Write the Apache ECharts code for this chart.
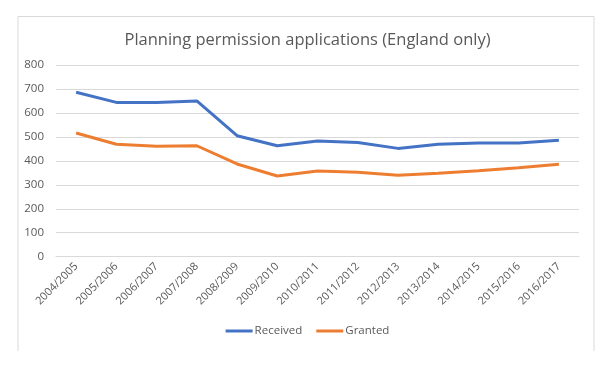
<!DOCTYPE html>
<html><head><meta charset="utf-8">
<script src="https://cdn.jsdelivr.net/npm/echarts@6/dist/echarts.min.js"></script>
<style>html,body{margin:0;padding:0;background:#fff}#c{width:615px;height:375px}</style>
</head><body><div id="c"></div>
<script>
const categories = ['2004/2005','2005/2006','2006/2007','2007/2008','2008/2009','2009/2010','2010/2011','2011/2012','2012/2013','2013/2014','2014/2015','2015/2016','2016/2017'];
const received = [686, 644, 644, 650, 505, 463, 483, 477, 452, 469, 474, 474, 486];
const granted = [516, 469, 461, 463, 387, 337, 358, 352, 340, 348, 359, 371, 386];
const yTicks = {min: 0, max: 800, interval: 100};
const FONT = 'Open Sans';
const chart = echarts.init(document.getElementById('c'), null, {renderer: 'canvas'});
chart.setOption({
  animation: false,
  backgroundColor: '#fff',
  title: {text: 'Planning permission applications (England only)', left: 'center', top: 27,
    textStyle: {fontFamily: FONT, fontSize: 16.5, fontWeight: 'normal', color: '#595959'}},
  graphic: [{type: 'polyline', shape: {points: [[18, 351], [18, 16.5], [594, 16.5], [594, 351]]},
    style: {stroke: '#d9d9d9', fill: null, lineWidth: 1}}],
  legend: {bottom: 33, left: 'center', itemWidth: 27, itemHeight: 3, itemGap: 14, icon: 'rect',
    textStyle: {fontFamily: FONT, fontSize: 11.5, color: '#595959', padding: [0, 0, 0, -3]},
    data: ['Received', 'Granted']},
  grid: {left: 56, right: 36, top: 65, bottom: 118.3},
  xAxis: {type: 'category', data: categories, boundaryGap: true,
    axisLine: {lineStyle: {color: '#d9d9d9'}}, axisTick: {show: false},
    axisLabel: {rotate: 45, fontFamily: FONT, fontSize: 11, color: '#595959', margin: 8, interval: 0}},
  yAxis: {type: 'value', min: yTicks.min, max: yTicks.max, interval: yTicks.interval,
    axisLine: {show: false}, axisTick: {show: false},
    splitLine: {lineStyle: {color: '#d9d9d9'}},
    axisLabel: {fontFamily: FONT, fontSize: 11.5, color: '#595959', margin: 12}},
  series: [
    {name: 'Received', type: 'line', data: received, symbol: 'none', lineStyle: {color: '#4472C4', width: 3}, itemStyle: {color: '#4472C4'}},
    {name: 'Granted', type: 'line', data: granted, symbol: 'none', lineStyle: {color: '#ED7D31', width: 3}, itemStyle: {color: '#ED7D31'}}
  ]
});
</script></body></html>
